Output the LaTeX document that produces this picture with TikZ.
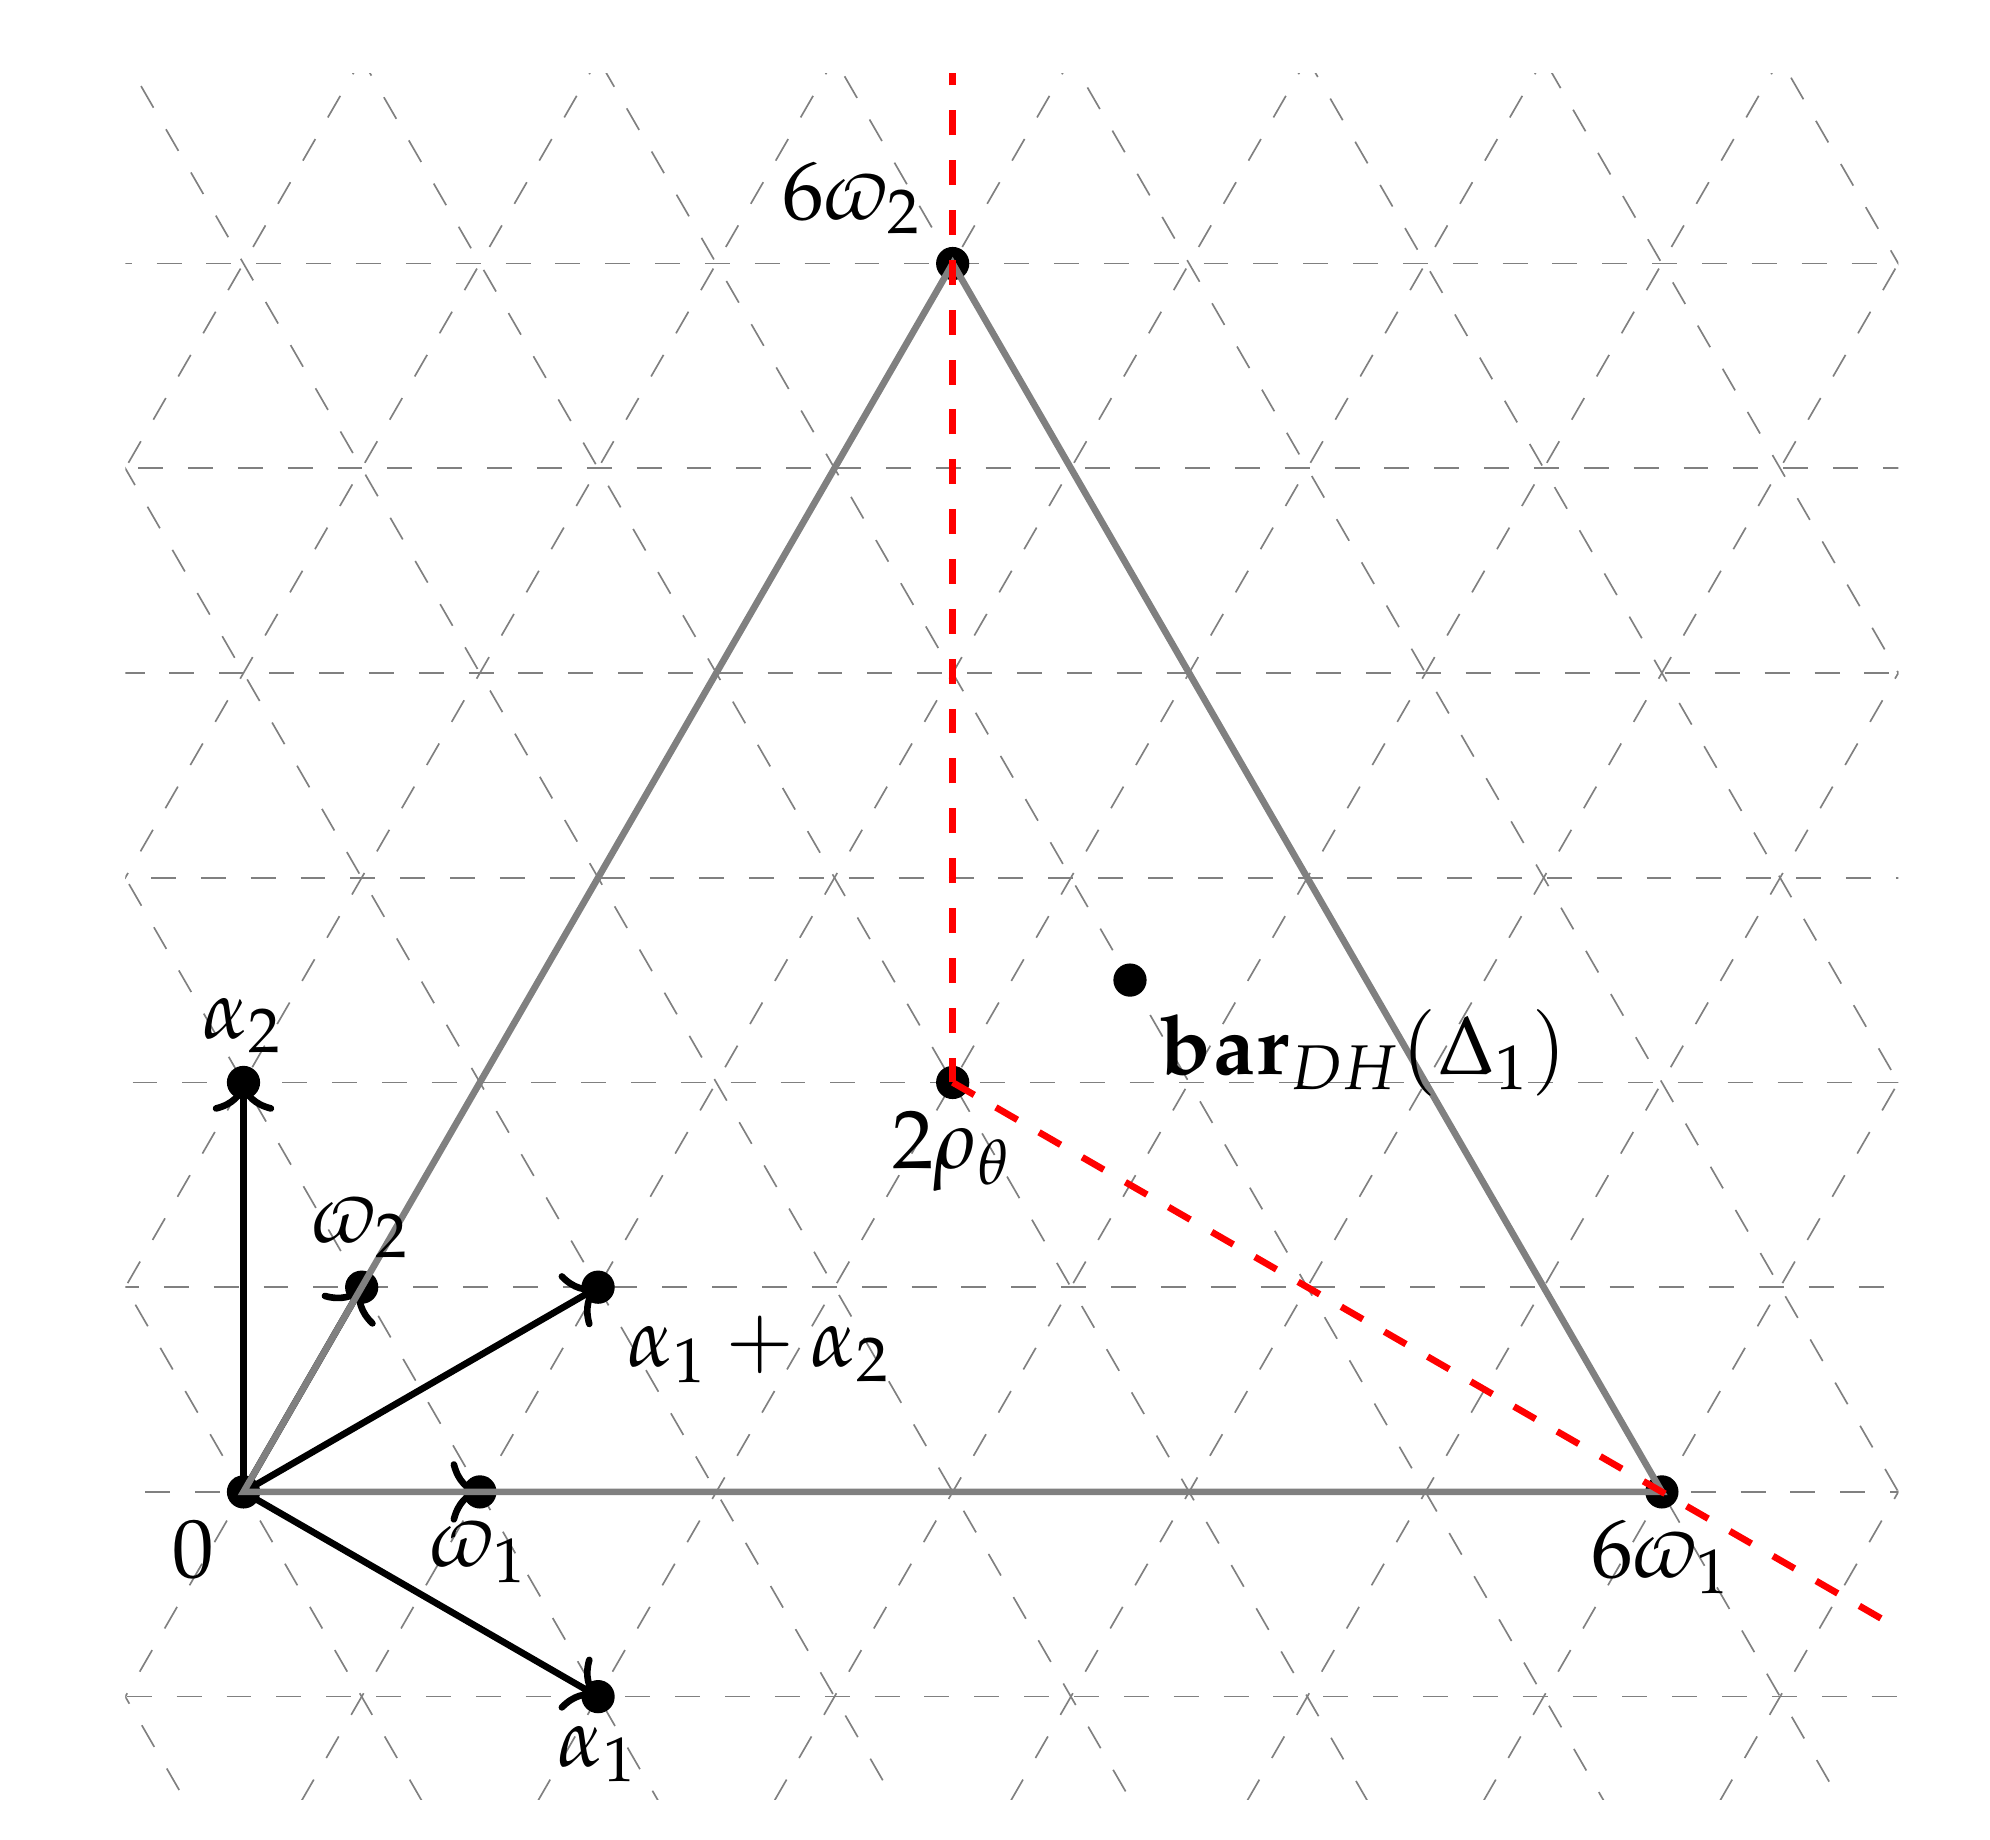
\documentclass[tikz,border=0pt]{standalone}
\usepackage{mathpazo}
\usetikzlibrary{arrows.meta}
\begin{document}
\begin{tikzpicture}[
  gridline/.style={gray, dashed, very thin},
  vec/.style={-{Computer Modern Rightarrow[scale=1.05]}, thick, black},
  wall/.style={red, dashed, thick},
  edge/.style={gray, thick},
  lbl/.style={inner sep=0.333em}
]
\useasboundingbox (-1.030,-1.472) rectangle (7.388,6.311);
\coordinate (O) at (0,0);
\coordinate (w1) at (1,0);
\coordinate (w2) at (0.5,0.8660254);
\coordinate (a1) at (1.5,-0.8660254);
\coordinate (a2) at (0,1.7320508);
\coordinate (a12) at (1.5,0.8660254);
\coordinate (rho) at (3,1.7320508);
\coordinate (W1) at (6,0);
\coordinate (W2) at (3,5.1961524);
\coordinate (bar) at (3.75,2.1650635);
% lattice grid
\begin{scope}
  \clip (-0.5,-1.3) rectangle (7,6);
  \begin{scope}[x={(1cm,0cm)}, y={(0.5cm,0.8660254cm)}]
    \foreach \b in {-1,...,6} \draw[gridline] (-4,\b) -- (8,\b);
    \foreach \c in {-4,...,7} \draw[gridline] (\c,-11) -- (\c,11);
    \foreach \c in {-1,...,10} \draw[gridline] (11,{\c-11}) -- (-11,{\c+11});
  \end{scope}
\end{scope}
% vectors
\draw[vec] (O) -- (a1);
\draw[vec] (O) -- (a2);
\draw[vec] (O) -- (a12);
\draw[vec] (O) -- (w1);
\draw[vec] (O) -- (w2);
% dots
\foreach \p in {O,w1,w2,a1,a2,a12,rho,W1,W2,bar} \fill (\p) circle (2pt);
% triangle
\draw[edge] (O) -- (W1) -- (W2) -- cycle;
% walls
\begin{scope}
  \clip (-0.5,-1.3) rectangle (7,6);
  \draw[wall] (rho) -- (3,7);
  \draw[wall] (rho) -- +(-30:6);
\end{scope}
% labels
\node (l0) [lbl, below left] at (O) {$0$};
\node (lw1) [lbl, below] at (w1) {$\varpi_1$};
\node (lw2) [lbl, above] at (w2) {$\varpi_2$};
\node (la1) [lbl, below] at (a1) {$\alpha_1$};
\node (la2) [lbl, above] at (a2) {$\alpha_2$};
\node (la12) [lbl, below right] at (a12) {$\alpha_1+\alpha_2$};
\node (lrho) [lbl, below] at (rho) {$2\rho_\theta$};
\node (lW1) [lbl, below] at (W1) {$6\varpi_1$};
\node (lW2) [lbl, above left] at (W2) {$6\varpi_2$};
\node (lbar) [lbl, below right] at (bar) {$\mathbf{bar}_{DH}(\Delta_1)$};
\end{tikzpicture}
\end{document}
